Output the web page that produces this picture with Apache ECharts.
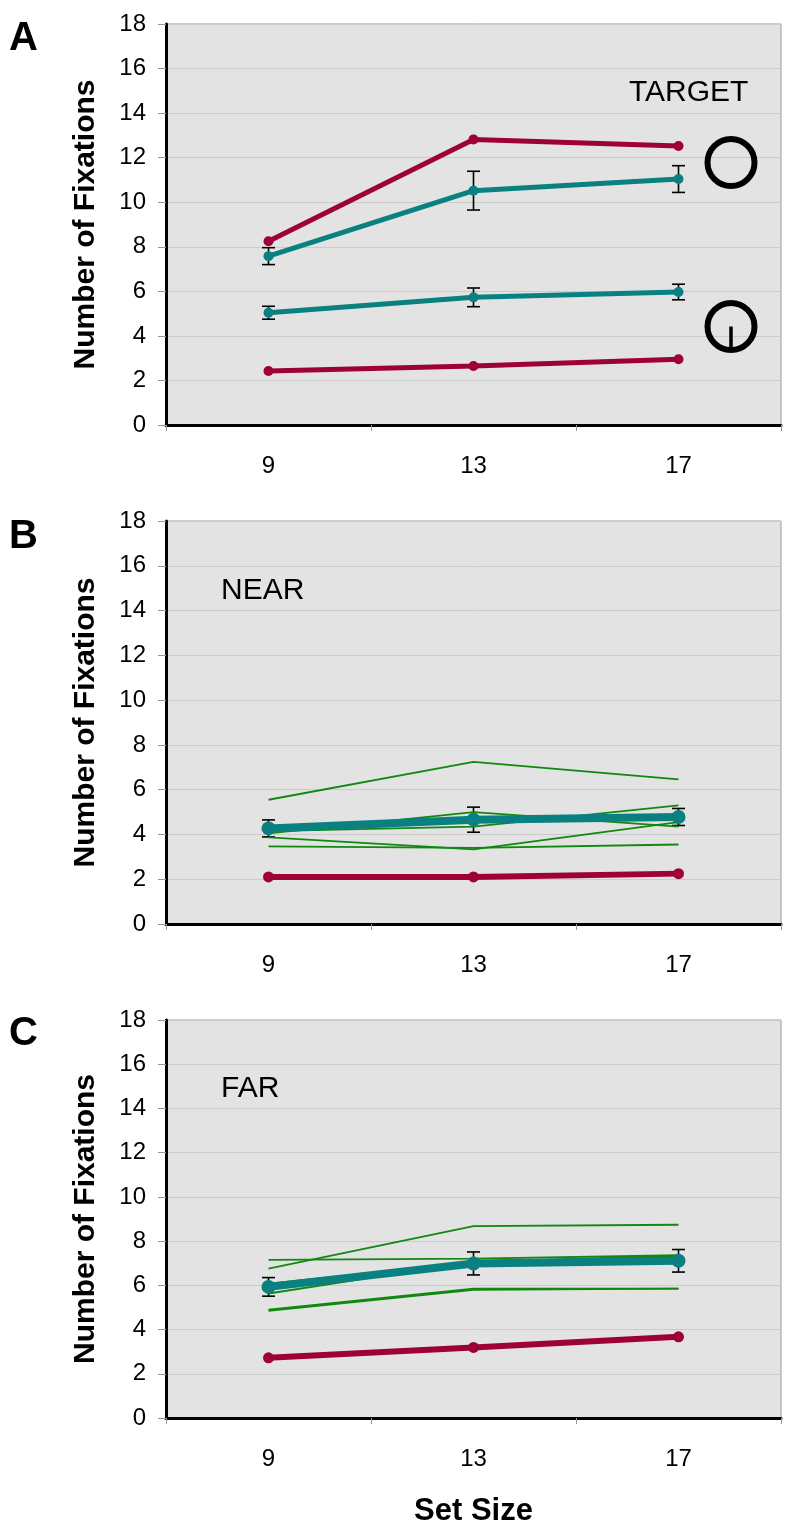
<!DOCTYPE html>
<html>
<head>
<meta charset="utf-8">
<script src="https://cdn.jsdelivr.net/npm/echarts@6/dist/echarts.min.js"></script>
<style>
  html, body { margin: 0; padding: 0; background: #fff; }
  #chart { width: 800px; height: 1535px; }
</style>
</head>
<body>
<div id="chart"></div>
<script>
// x categories (set size)
const setSizes = ['9', '13', '17'];

// A: TARGET
const targetRedTop = [8.25, 12.82, 12.52];
const targetTealTop = [7.58, 10.52, 11.04];
const targetTealTopErr = [0.38, 0.87, 0.6];
const targetTealLow = [5.04, 5.73, 5.97];
const targetTealLowErr = [0.29, 0.42, 0.35];
const targetRedLow = [2.42, 2.65, 2.95];

// B: NEAR
const nearRed = [2.1, 2.1, 2.25];
const nearTeal = [4.27, 4.66, 4.78];
const nearTealErr = [0.38, 0.56, 0.38];
const nearSubjects = [
  [5.55, 7.24, 6.46],
  [4.05, 5.0, 4.35],
  [4.15, 4.35, 5.3],
  [3.87, 3.33, 4.55],
  [3.47, 3.4, 3.55]
];

// C: FAR
const farRed = [2.72, 3.19, 3.67];
const farTeal = [5.93, 6.99, 7.11];
const farTealErr = [0.42, 0.52, 0.51];
const farSubjects = [
  [6.76, 8.68, 8.74],
  [7.15, 7.21, 7.36],
  [5.63, 7.06, 7.33],
  [6.08, 7.05, 7.3],
  [4.85, 5.8, 5.85],
  [4.9, 5.85, 5.85]
];

const RED = '#9e0039';
const TEAL = '#0a8080';
const GREEN = '#11880f';
const FONT = 'Liberation Sans, Arial, sans-serif';

const chart = echarts.init(document.getElementById('chart'));

const grids = [
  { left: 166, right: 19, top: 24, height: 401 },
  { left: 166, right: 19, top: 521, height: 403 },
  { left: 166, right: 19, top: 1020, height: 398 }
].map(g => Object.assign(g, {
  show: true,
  backgroundColor: '#e3e3e3',
  borderColor: '#9a9a9a',
  borderWidth: 1
}));

const xAxes = grids.map((g, i) => ({
  type: 'category',
  gridIndex: i,
  data: setSizes,
  boundaryGap: true,
  axisLine: { show: true, lineStyle: { color: '#000', width: 3 } },
  axisTick: { show: true, length: 6, lineStyle: { color: '#999' } },
  axisLabel: { fontSize: 24, color: '#000', margin: 29, fontFamily: FONT },
  splitLine: { show: false },
  name: i === 2 ? 'Set Size' : '',
  nameLocation: 'middle',
  nameGap: 78,
  nameTextStyle: { fontSize: 31, fontWeight: 'bold', color: '#000', fontFamily: FONT }
}));

const yAxes = grids.map((g, i) => ({
  type: 'value',
  gridIndex: i,
  min: 0,
  max: 18,
  interval: 2,
  axisLine: { show: true, lineStyle: { color: '#000', width: 3 } },
  axisTick: { show: true, length: 8, lineStyle: { color: '#999' } },
  axisLabel: { fontSize: 24, color: '#000', margin: 20, fontFamily: FONT, padding: [4, 0, 0, 0] },
  splitLine: { show: true, lineStyle: { color: '#cbcbcb', width: 1 } },
  name: 'Number of Fixations',
  nameLocation: 'middle',
  nameGap: 65,
  nameTextStyle: { fontSize: 30, fontWeight: 'bold', color: '#000', fontFamily: FONT }
}));

const mainLine = (data, color, idx, width, size) => ({
  type: 'line',
  xAxisIndex: idx,
  yAxisIndex: idx,
  data: data,
  symbol: 'circle',
  symbolSize: size,
  lineStyle: { color: color, width: width },
  itemStyle: { color: color },
  z: 4
});

const thinLine = (data, idx) => ({
  type: 'line',
  xAxisIndex: idx,
  yAxisIndex: idx,
  data: data,
  symbol: 'none',
  lineStyle: { color: GREEN, width: 1.8 },
  z: 3
});

const errBars = (vals, errs, idx) => ({
  type: 'custom',
  xAxisIndex: idx,
  yAxisIndex: idx,
  data: vals.map((v, k) => [k, v, errs[k]]),
  encode: { x: 0, y: 1 },
  z: 3,
  renderItem: (params, api) => {
    const c = api.value(0), v = api.value(1), e = api.value(2);
    const hi = api.coord([c, v + e]);
    const lo = api.coord([c, v - e]);
    const st = { stroke: '#000', lineWidth: 1.6 };
    const w = 6.5;
    return {
      type: 'group',
      children: [
        { type: 'line', shape: { x1: hi[0], y1: hi[1], x2: lo[0], y2: lo[1] }, style: st },
        { type: 'line', shape: { x1: hi[0] - w, y1: hi[1], x2: hi[0] + w, y2: hi[1] }, style: st },
        { type: 'line', shape: { x1: lo[0] - w, y1: lo[1], x2: lo[0] + w, y2: lo[1] }, style: st }
      ]
    };
  }
});

const series = [
  // A
  errBars(targetTealTop, targetTealTopErr, 0),
  errBars(targetTealLow, targetTealLowErr, 0),
  mainLine(targetTealTop, TEAL, 0, 5, 10),
  mainLine(targetTealLow, TEAL, 0, 5, 10),
  mainLine(targetRedTop, RED, 0, 5, 10),
  mainLine(targetRedLow, RED, 0, 5, 10),
  // B
  errBars(nearTeal, nearTealErr, 1),
  ...nearSubjects.map(d => thinLine(d, 1)),
  mainLine(nearTeal, TEAL, 1, 8, 14),
  mainLine(nearRed, RED, 1, 6, 11),
  // C
  errBars(farTeal, farTealErr, 2),
  ...farSubjects.map(d => thinLine(d, 2)),
  mainLine(farTeal, TEAL, 2, 8, 14),
  mainLine(farRed, RED, 2, 6, 11)
];

// text placed by its vertical middle
const txt = (x, y, s, size, bold) => ({
  type: 'text',
  x: x,
  y: y,
  z: 10,
  style: {
    text: s,
    fill: '#000',
    font: (bold ? 'bold ' : '') + size + 'px ' + FONT,
    verticalAlign: 'middle'
  }
});

const graphic = [
  txt(9, 39, 'A', 40, true),
  txt(9, 537, 'B', 40, true),
  txt(9, 1034, 'C', 40, true),
  txt(629, 93, 'TARGET', 30, false),
  txt(221, 591, 'NEAR', 30, false),
  txt(221, 1089, 'FAR', 30, false),
  // target icons
  { type: 'circle', z: 10, shape: { cx: 731, cy: 162.5, r: 23.5 }, style: { fill: 'none', stroke: '#000', lineWidth: 6 } },
  { type: 'circle', z: 10, shape: { cx: 731, cy: 326.5, r: 23.5 }, style: { fill: 'none', stroke: '#000', lineWidth: 6 } },
  { type: 'line', z: 10, shape: { x1: 731, y1: 326.5, x2: 731, y2: 350 }, style: { stroke: '#000', lineWidth: 3.5 } }
];

chart.setOption({
  animation: false,
  backgroundColor: '#fff',
  grid: grids,
  xAxis: xAxes,
  yAxis: yAxes,
  series: series,
  graphic: graphic
});
</script>
</body>
</html>
